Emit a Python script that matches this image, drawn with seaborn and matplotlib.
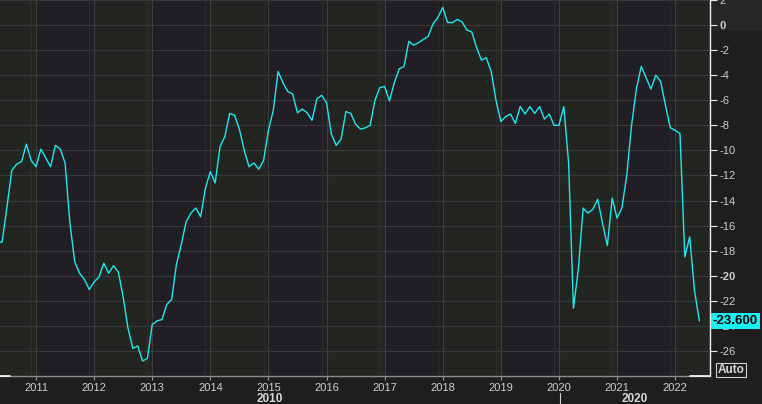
import matplotlib.pyplot as plt
import matplotlib.transforms as mtransforms
from matplotlib.lines import Line2D
from matplotlib.patches import Rectangle
import numpy as np
import pandas as pd
import seaborn as sns

sns.set_style("dark")
plt.rcParams["font.family"] = ["Liberation Sans", "DejaVu Sans"]

# monthly readings, May 2010 .. Jun 2022
start_year, start_month = 2010, 5
values = [
    -17.4, -17.3, -14.5, -11.6, -11.1, -10.9, -9.5, -10.8,              # 2010 May-Dec
    -11.3, -9.9, -10.6, -11.3, -9.6, -9.9, -11.0, -15.8, -18.9, -19.8, -20.3, -21.1,  # 2011
    -20.5, -20.1, -19.0, -19.8, -19.2, -19.7, -21.7, -24.2, -25.8, -25.6, -26.8, -26.6,  # 2012
    -23.9, -23.6, -23.5, -22.3, -21.9, -19.1, -17.5, -15.7, -15.0, -14.6, -15.3, -13.0,  # 2013
    -11.7, -12.6, -9.7, -8.9, -7.05, -7.2, -8.3, -10.0, -11.3, -11.0, -11.5, -10.8,  # 2014
    -8.4, -6.8, -3.7, -4.6, -5.3, -5.5, -7.0, -6.7, -7.0, -7.6, -5.9, -5.6,  # 2015
    -6.2, -8.7, -9.6, -9.1, -6.9, -7.05, -7.9, -8.3, -8.2, -8.0, -6.0, -5.0,  # 2016
    -4.9, -6.05, -4.6, -3.5, -3.3, -1.3, -1.6, -1.4, -1.15, -0.9, 0.1, 0.6,  # 2017
    1.4, 0.2, 0.2, 0.45, 0.25, -0.4, -0.55, -1.8, -2.8, -2.6, -3.7, -6.0,  # 2018
    -7.7, -7.3, -7.1, -7.85, -6.5, -7.1, -6.5, -7.05, -6.5, -7.5, -7.1, -8.0,  # 2019
    -8.0, -6.5, -11.0, -22.6, -19.5, -14.6, -15.0, -14.7, -13.9, -15.8, -17.6, -13.8,  # 2020
    -15.4, -14.6, -12.0, -8.0, -5.1, -3.3, -4.2, -5.1, -4.0, -4.5, -6.4, -8.2,  # 2021
    -8.4, -8.65, -18.5, -16.9, -21.2, -23.6,  # 2022 Jan-Jun
]
years = list(range(2011, 2023))
y_ticks = list(range(-26, 4, 2))
last_label = "-23.600"

t = [start_year + (start_month - 1 + k) / 12 for k in range(len(values))]
df = pd.DataFrame({"t": t, "value": values})

fig = plt.figure(figsize=(7.62, 4.04), dpi=100, facecolor="#1e1e1e")
ax = fig.add_axes([0, 28 / 404, 710 / 762, 376 / 404])
ax.set_facecolor("#232521")

x0, x1 = 2010.38, 2022.60
ax.set_xlim(x0, x1)
ax.set_ylim(-28, 2)

# alternating yearly bands
for yr in range(2010, 2023):
    if yr % 2 == 1:
        ax.axvspan(yr, yr + 1, color="#211f23", lw=0, zorder=0)

# grid
for yv in y_ticks:
    ax.axhline(yv, color="#3a3a3a", lw=0.8, zorder=1)
for yr in years:
    ax.axvline(yr, color="#3d3d3d", lw=0.8, zorder=1)
    ax.axvline(yr - 1 / 12, color="#2c2e2a", lw=0.8, zorder=1)

sns.lineplot(data=df, x="t", y="value", ax=ax, color="#1ee8f2", lw=1.0, zorder=3)

ax.set_xlabel("")
ax.set_ylabel("")
ax.set_xticks(years)
ax.set_xticklabels([str(y) for y in years])
ax.set_yticks(y_ticks)
ax.set_yticklabels([str(v) for v in y_ticks])
ax.yaxis.tick_right()
ax.tick_params(axis="x", colors="#9a9a9a", labelcolor="#cfcfcf", labelsize=8,
               length=3, width=0.8, pad=2, bottom=True)
ax.tick_params(axis="y", colors="#e8e8e8", labelcolor="#cfcfcf", labelsize=8,
               length=5, width=0.8, pad=2, right=True, left=False)
for lbl in ax.get_yticklabels():
    if lbl.get_text() in ("0", "-20"):
        lbl.set_fontweight("bold")

for side in ("top", "left"):
    ax.spines[side].set_visible(False)
ax.spines["right"].set_color("#f0f0f0")
ax.spines["right"].set_linewidth(1.0)
ax.spines["bottom"].set_color("#8c8c8c")
ax.spines["bottom"].set_linewidth(1.0)

# scroll marks on the bottom axis
for a, b in [(0, 10 / 710), (690 / 710, 1.0)]:
    ax.plot([a, b], [0, 0], color="white", lw=1.2, transform=ax.transAxes,
            clip_on=False, zorder=5)

# last value tag
trans = mtransforms.blended_transform_factory(ax.transAxes, ax.transData)
ax.text(1.004, values[-1], last_label, transform=trans, ha="left", va="center",
        fontsize=9.5, fontweight="bold", color="black", zorder=6,
        bbox=dict(boxstyle="square,pad=0.15", fc="#19f0f5", ec="none"))

# top-right panel and Auto button
fig.add_artist(Rectangle((710 / 762, 1 - 31 / 404), 52 / 762, 31 / 404,
                         transform=fig.transFigure, fc="#262626", ec="none", zorder=0))
fig.text(731 / 762, 1 - 370 / 404, "Auto", ha="center", va="center", fontsize=8.5,
         fontweight="bold", color="#d8d8d8",
         bbox=dict(boxstyle="square,pad=0.1", fc="none", ec="#cfcfcf", lw=0.8))

# decade row
fig.text(270 / 762, 1 - 399 / 404, "2010", ha="center", va="center", fontsize=8.5,
         fontweight="bold", color="#d8d8d8")
fig.text(635 / 762, 1 - 399 / 404, "2020", ha="center", va="center", fontsize=8.5,
         fontweight="bold", color="#d8d8d8")
fig.add_artist(Line2D([560 / 762, 560 / 762], [0, 11 / 404], transform=fig.transFigure,
                      color="#cfcfcf", lw=0.8))

fig.savefig("out.png", dpi=100, facecolor=fig.get_facecolor())
